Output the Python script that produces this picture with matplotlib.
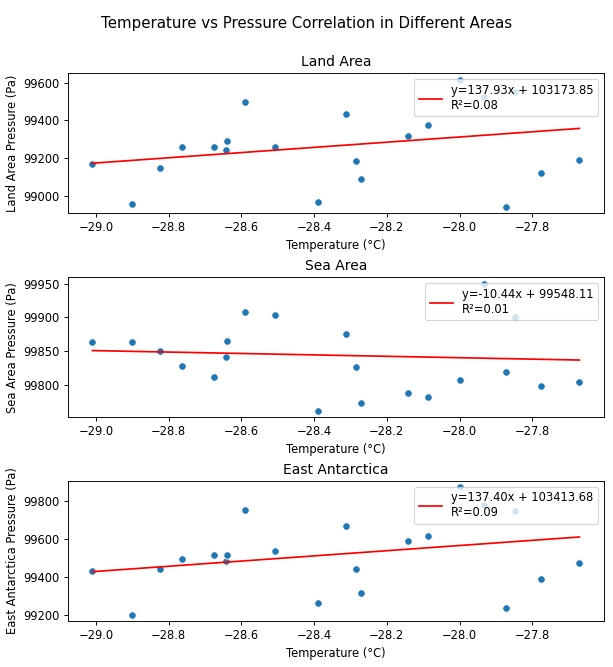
import matplotlib
matplotlib.use("Agg")
import matplotlib.pyplot as plt
import numpy as np

# shared temperatures (°C)
temperature = [-29.01, -28.90, -28.825, -28.764, -28.676, -28.643, -28.640,
               -28.591, -28.507, -28.389, -28.311, -28.286, -28.272, -28.141,
               -28.086, -28.00, -27.932, -27.871, -27.848, -27.777, -27.670]

land_pressure = [99167, 98954, 99148, 99257, 99257, 99243, 99289,
                 99496, 99260, 98968, 99433, 99183, 99091, 99317,
                 99376, 99616, 99524, 98940, 99550, 99123, 99190]

sea_pressure = [99864, 99863, 99850, 99828, 99812, 99842, 99865,
                99908, 99904, 99762, 99876, 99826, 99774, 99789,
                99783, 99807, 99950, 99819, 99901, 99798, 99805]

ea_pressure = [99433, 99200, 99442, 99493, 99517, 99482, 99514,
               99757, 99535, 99263, 99672, 99440, 99313, 99588,
               99618, 99875, 99780, 99235, 99749, 99387, 99475]

area_titles = ["Land Area", "Sea Area", "East Antarctica"]
area_ylabels = ["Land Area Pressure (Pa)", "Sea Area Pressure (Pa)",
                "East Antarctica Pressure (Pa)"]
# linear fit results shown in the legends
slopes = [137.93, -10.44, 137.40]
intercepts = [103173.85, 99548.11, 103413.68]
r_squared = [0.08, 0.01, 0.09]


def main():
    dpi = 83
    fig, axes = plt.subplots(3, 1, figsize=(613 / dpi, 667 / dpi), dpi=dpi)
    fig.subplots_adjust(left=0.111, right=0.985, top=0.890, bottom=0.069,
                        hspace=0.456)

    x = np.array(temperature)
    pressures = [land_pressure, sea_pressure, ea_pressure]

    for i, ax in enumerate(axes):
        ax.scatter(x, pressures[i], s=42, color='#1f77b4',
                   edgecolor='white', linewidth=0.75)
        fit = slopes[i] * x + intercepts[i]
        label = f"y={slopes[i]:.2f}x + {intercepts[i]:.2f}\nR²={r_squared[i]:.2f}"
        ax.plot(x, fit, color='red', label=label)
        ax.set_title(area_titles[i])
        ax.set_xlabel("Temperature (°C)")
        ax.set_ylabel(area_ylabels[i])
        ax.legend(loc='upper right')

    fig.suptitle("Temperature vs Pressure Correlation in Different Areas",
                 fontsize=13, y=0.965, va='center')
    fig.savefig("out.png", dpi=dpi)


if __name__ == "__main__":
    main()
